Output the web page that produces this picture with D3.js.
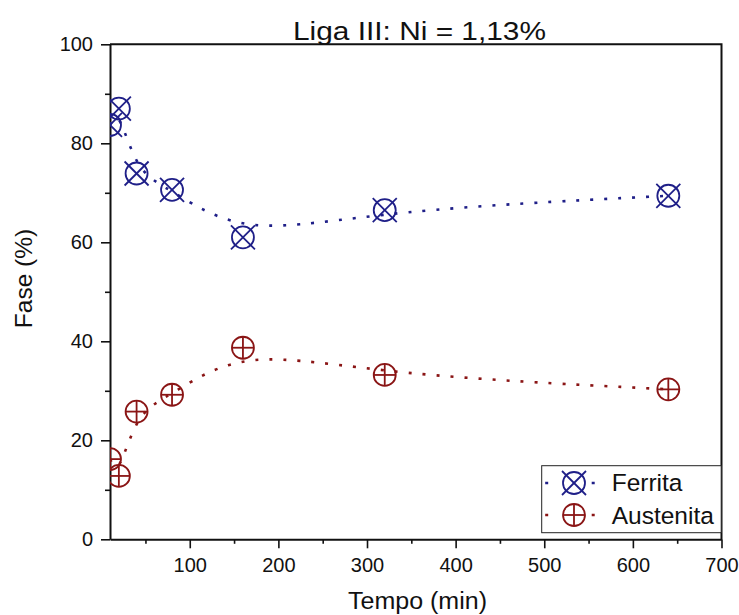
<!DOCTYPE html>
<html>
<head>
<meta charset="utf-8">
<script src="https://cdn.jsdelivr.net/npm/d3@7"></script>
<style>
  body { margin: 0; background: #fff; }
  text { font-family: "Liberation Sans", Arial, sans-serif; fill: #111; }
</style>
</head>
<body>
<div id="chart"></div>
<script>
// data
const tempo = [10, 20, 40, 80, 160, 320, 640];
const ferrita = [83.7, 87.0, 73.9, 70.6, 61.0, 66.5, 69.4];
const austenita = [16.2, 12.8, 25.8, 29.2, 38.7, 33.2, 30.3];

const xMajorTicks = [100, 200, 300, 400, 500, 600, 700];
const xMinorTicks = [50, 150, 250, 350, 450, 550, 650];
const yMajorTicks = [0, 20, 40, 60, 80, 100];
const yMinorTicks = [10, 30, 50, 70, 90];

const seriesNames = ['Ferrita', 'Austenita'];
const seriesColors = ['#1f1f88', '#8a1515'];

// layout
const width = 739, height = 615;
const margin = {t: 44.3, r: 17.5, b: 75.7, l: 110};
const w = width - margin.l - margin.r;
const h = height - margin.t - margin.b;

const svg = d3.select('#chart').append('svg')
    .attr('width', width)
    .attr('height', height);

// scales
const x = d3.scaleLinear().domain([10, 700]).range([0, w]);
const y = d3.scaleLinear().domain([0, 100]).range([h, 0]);

const plot = svg.append('g')
    .attr('transform', `translate(${margin.l},${margin.t})`);

svg.append('defs').append('clipPath')
    .attr('id', 'clip')
    .append('rect')
    .attr('width', w)
    .attr('height', h);

// frame (top and right)
plot.append('path')
    .attr('d', `M0,0H${w}V${h}`)
    .attr('fill', 'none')
    .attr('stroke', '#111')
    .attr('stroke-width', 2);

// minor ticks
plot.append('g')
    .attr('transform', `translate(0,${h})`)
    .call(d3.axisBottom(x).tickValues(xMinorTicks).tickSize(4.5).tickFormat(''))
    .call(g => g.select('.domain').remove());
plot.append('g')
    .call(d3.axisLeft(y).tickValues(yMinorTicks).tickSize(5).tickFormat(''))
    .call(g => g.select('.domain').remove());

// major axes
const xAxis = plot.append('g')
    .attr('transform', `translate(0,${h})`)
    .call(d3.axisBottom(x).tickValues(xMajorTicks).tickSize(9).tickSizeOuter(0).tickPadding(10));
const yAxis = plot.append('g')
    .call(d3.axisLeft(y).tickValues(yMajorTicks).tickSize(9).tickSizeOuter(0).tickPadding(8));

[xAxis, yAxis].forEach(a => {
    a.selectAll('text').style('font-size', '20px').attr('fill', '#111');
    a.selectAll('.tick line').attr('stroke', '#111').attr('stroke-width', 1.6);
    a.select('.domain').attr('stroke', '#111').attr('stroke-width', 2);
});
plot.selectAll('.tick line').attr('stroke', '#111').attr('stroke-width', 1.6);

// series
const data = [ferrita, austenita].map((vals, i) => ({
    name: seriesNames[i],
    color: seriesColors[i],
    points: tempo.map((t, j) => ({t: t, v: vals[j]}))
}));

const line = d3.line()
    .curve(d3.curveBasis)
    .x(d => x(d.t))
    .y(d => y(d.v));

const inner = plot.append('g').attr('clip-path', 'url(#clip)');

inner.selectAll('.curve')
    .data(data)
    .enter()
    .append('path')
    .classed('curve', true)
    .attr('d', d => line(d.points))
    .attr('fill', 'none')
    .attr('stroke', d => d.color)
    .attr('stroke-width', 2.6)
    .attr('stroke-dasharray', '3,11');

// marker drawing: circle with X for ferrita, circle with + for austenita
function drawMarker(g, idx, color) {
    g.append('circle')
        .attr('r', 11)
        .attr('fill', 'none')
        .attr('stroke', color)
        .attr('stroke-width', 1.8);
    const segs = idx === 0
        ? [[-12, -12, 12, 12], [-12, 12, 12, -12]]
        : [[-11, 0, 11, 0], [0, -11, 0, 11]];
    segs.forEach(s => {
        g.append('line')
            .attr('x1', s[0]).attr('y1', s[1])
            .attr('x2', s[2]).attr('y2', s[3])
            .attr('stroke', color)
            .attr('stroke-width', 1.8);
    });
}

data.forEach((s, i) => {
    inner.selectAll(`.mk-${i}`)
        .data(s.points)
        .enter()
        .append('g')
        .classed(`mk-${i}`, true)
        .attr('transform', d => `translate(${x(d.t)},${y(d.v)})`)
        .each(function() { drawMarker(d3.select(this), i, s.color); });
});

// legend
const legend = plot.append('g')
    .attr('transform', `translate(${541.7 - margin.l},${465.7 - margin.t})`);
legend.append('rect')
    .attr('width', 179.5)
    .attr('height', 67)
    .attr('fill', '#fff')
    .attr('stroke', '#222')
    .attr('stroke-width', 1);

data.forEach((s, i) => {
    const row = legend.append('g')
        .attr('transform', `translate(0,${17.3 + i * 32})`);
    row.append('line')
        .attr('x1', 3.5).attr('x2', 54)
        .attr('stroke', s.color)
        .attr('stroke-width', 2.6)
        .attr('stroke-dasharray', '3,43.5');
    const m = row.append('g').attr('transform', 'translate(32.3,0)');
    drawMarker(m, i, s.color);
    row.append('text')
        .attr('x', 70)
        .attr('y', 8.5)
        .style('font-size', '24.5px')
        .text(s.name);
});

// title & axis labels
svg.append('text')
    .attr('x', 419.5)
    .attr('y', 40)
    .attr('text-anchor', 'middle')
    .attr('textLength', 253)
    .attr('lengthAdjust', 'spacingAndGlyphs')
    .style('font-size', '26px')
    .text('Liga III: Ni = 1,13%');

svg.append('text')
    .attr('x', 417.5)
    .attr('y', 609)
    .attr('text-anchor', 'middle')
    .attr('textLength', 139)
    .attr('lengthAdjust', 'spacingAndGlyphs')
    .style('font-size', '23.5px')
    .text('Tempo (min)');

svg.append('text')
    .attr('transform', 'translate(32,278.5) rotate(-90)')
    .attr('text-anchor', 'middle')
    .style('font-size', '24.5px')
    .text('Fase (%)');
</script>
</body>
</html>
